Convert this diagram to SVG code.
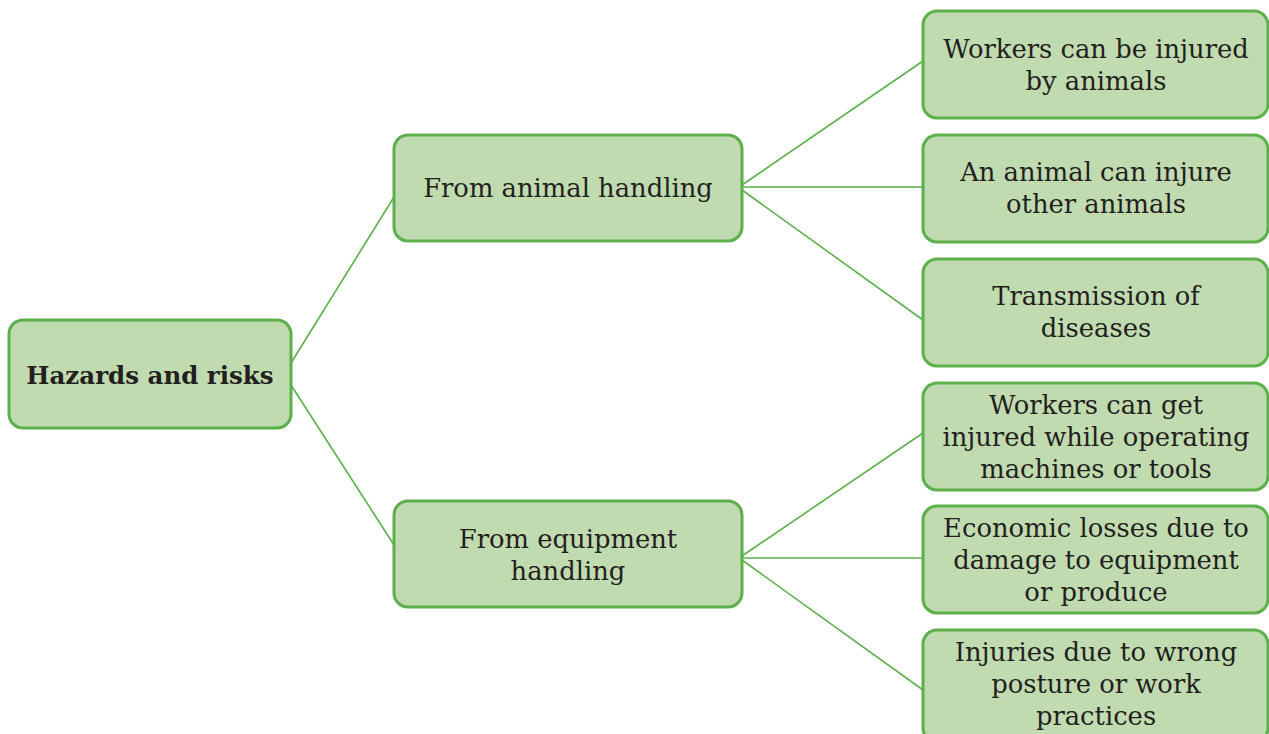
<svg xmlns="http://www.w3.org/2000/svg" width="1269" height="734" viewBox="0 0 1269 734">
<style>
.box{fill:#c1dbb0;stroke:#5bb04b;stroke-width:3}
.t{font-family:"DejaVu Serif","Liberation Serif",serif;font-size:25.8px;fill:#231f20;text-anchor:middle}
.b{font-weight:bold;font-size:24.5px}
.c line{stroke:#5bb04b;stroke-width:1.6}
</style>
<rect width="1269" height="734" fill="#ffffff"/>
<g class="c" id="connectors">
<line x1="291" y1="363" x2="394" y2="197"/>
<line x1="291" y1="385" x2="394" y2="545"/>
<line x1="742" y1="185" x2="923" y2="61"/>
<line x1="742" y1="187" x2="923" y2="187"/>
<line x1="742" y1="190" x2="923" y2="320"/>
<line x1="742" y1="556" x2="923" y2="433"/>
<line x1="742" y1="558" x2="923" y2="558"/>
<line x1="742" y1="560" x2="923" y2="690"/>
</g>
<g id="root"><rect class="box" x="9" y="320" width="282" height="108" rx="14"/><text class="t b" x="150" y="384">Hazards and risks</text></g>
<g id="animal"><rect class="box" x="394" y="135" width="348" height="106" rx="14"/><text class="t" x="568" y="197">From animal handling</text></g>
<g id="equipment"><rect class="box" x="394" y="501" width="348" height="106" rx="14"/><text class="t" x="568" y="548">From equipment</text><text class="t" x="568" y="580">handling</text></g>
<g id="r1"><rect class="box" x="923" y="11" width="345" height="107" rx="14"/><text class="t" x="1096" y="58">Workers can be injured</text><text class="t" x="1096" y="90">by animals</text></g>
<g id="r2"><rect class="box" x="923" y="135" width="345" height="107" rx="14"/><text class="t" x="1096" y="181">An animal can injure</text><text class="t" x="1096" y="213">other animals</text></g>
<g id="r3"><rect class="box" x="923" y="259" width="345" height="107" rx="14"/><text class="t" x="1096" y="305">Transmission of</text><text class="t" x="1096" y="337">diseases</text></g>
<g id="r4"><rect class="box" x="923" y="383" width="345" height="107" rx="14"/><text class="t" x="1096" y="414">Workers can get</text><text class="t" x="1096" y="446">injured while operating</text><text class="t" x="1096" y="478">machines or tools</text></g>
<g id="r5"><rect class="box" x="923" y="506" width="345" height="107" rx="14"/><text class="t" x="1096" y="537">Economic losses due to</text><text class="t" x="1096" y="569">damage to equipment</text><text class="t" x="1096" y="601">or produce</text></g>
<g id="r6"><rect class="box" x="923" y="630" width="345" height="112" rx="14"/><text class="t" x="1096" y="661">Injuries due to wrong</text><text class="t" x="1096" y="693">posture or work</text><text class="t" x="1096" y="725">practices</text></g>
</svg>
